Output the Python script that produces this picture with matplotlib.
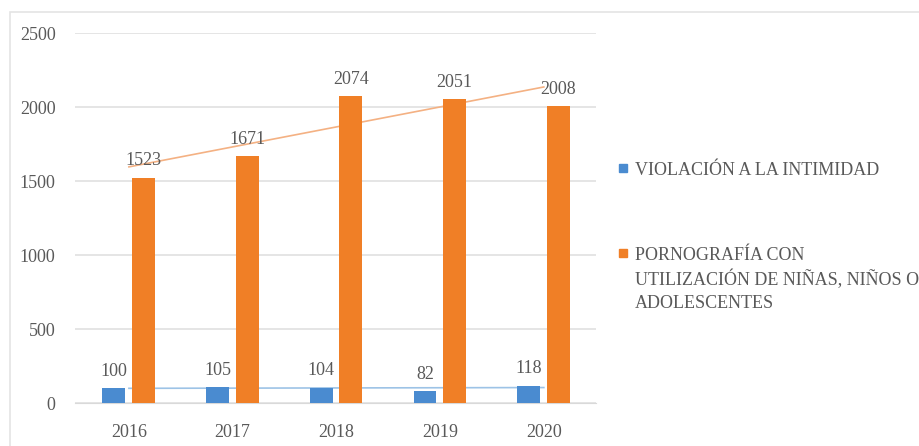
""" Delitos informáticos por año: barras con líneas de tendencia. """
import numpy as np
import matplotlib.pyplot as plt
from matplotlib.lines import Line2D
from matplotlib.patches import Rectangle

years = ["2016", "2017", "2018", "2019", "2020"]
violacion = [100, 105, 104, 82, 118]
pornografia = [1523, 1671, 2074, 2051, 2008]
series_names = [
    "VIOLACIÓN A LA INTIMIDAD",
    "PORNOGRAFÍA CON\nUTILIZACIÓN DE NIÑAS, NIÑOS O\nADOLESCENTES",
]
y_ticks = [0, 500, 1000, 1500, 2000, 2500]

BLUE = "#4a8bd0"
ORANGE = "#f07f26"
TEXT = "#595959"


def main() -> None:
    """App main's function. """
    plt.rcParams["font.family"] = "serif"
    plt.rcParams["font.serif"] = ["Liberation Serif", "DejaVu Serif"]

    fig = plt.figure(figsize=(9.2, 4.46), dpi=100)
    fig.patches.append(Rectangle((0.011, -0.01), 1.2, 0.984, transform=fig.transFigure,
                                 fill=False, edgecolor="#e4e4e4", linewidth=1.2))
    ax = fig.add_axes([0.0815, 0.0964, 0.566, 0.8296])

    x = np.arange(len(years))
    width = 0.22
    ax.bar(x - 0.145, violacion, width, color=BLUE, zorder=3)
    ax.bar(x + 0.14, pornografia, width, color=ORANGE, zorder=3)

    # trendlines (linear fit)
    for vals, col in [(violacion, "#9dc3e6"), (pornografia, "#f4b183")]:
        coef = np.polyfit(x, vals, 1)
        ax.plot(x, np.polyval(coef, x), color=col, linewidth=1.2, zorder=2)

    for xi, v in zip(x, violacion):
        ax.text(xi - 0.145, v + 55, str(v), ha="center", va="bottom",
                fontsize=13, color=TEXT, zorder=4)
    for xi, v in zip(x, pornografia):
        ax.text(xi + 0.14, v + 55, str(v), ha="center", va="bottom",
                fontsize=13, color=TEXT, zorder=4)

    ax.set_xlim(-0.52, 4.5)
    ax.set_ylim(0, 2500)
    ax.set_yticks(y_ticks)
    ax.set_xticks(x)
    ax.set_xticklabels(years)
    ax.tick_params(axis="both", length=0, labelsize=13, labelcolor=TEXT)
    ax.tick_params(axis="y", pad=14)
    ax.tick_params(axis="x", pad=15)
    ax.grid(axis="y", color="#e0e0e0", linewidth=1.2, zorder=0)
    for side in ["top", "right", "left"]:
        ax.spines[side].set_visible(False)
    ax.spines["bottom"].set_color("#d9d9d9")

    # legend drawn by hand: marker next to the first line of each label
    leg_y = [1 - 168 / 446, 1 - 253 / 446]
    for name, col, ly in zip(series_names, (BLUE, ORANGE), leg_y):
        fig.add_artist(Line2D([623 / 920], [ly], marker="s", linestyle="",
                              color=col, markersize=5.5,
                              transform=fig.transFigure))
        fig.text(635 / 920, ly + 0.0145, name, ha="left", va="top",
                 fontsize=13, color=TEXT, linespacing=1.42)

    fig.savefig("out.png", dpi=100)
    plt.close(fig)


if __name__ == "__main__":
    main()
